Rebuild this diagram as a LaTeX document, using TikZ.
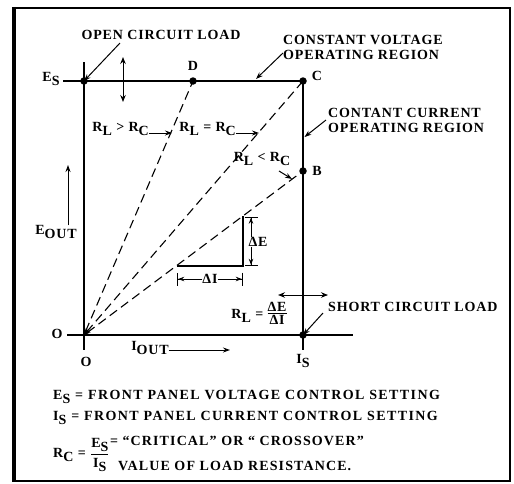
\documentclass[tikz,border=0pt]{standalone}
\usepackage{fontspec}
\setmainfont{Liberation Serif}[LetterSpace=6]
\usetikzlibrary{arrows.meta}
\newcommand\sbs[1]{\raisebox{-0.55ex}{#1}}
\newcommand\wideA{\addfontfeatures{LetterSpace=10}}
\newcommand\wideB{\addfontfeatures{LetterSpace=8}}
\newcommand\myfrac[2]{$\vcenter{\hbox{\begin{tabular}{@{}c@{}}#1\\[-3pt]\hline\rule{0pt}{11pt}#2\end{tabular}}}$}
\begin{document}
\begin{tikzpicture}[x=1pt,y=-1pt,
  txt/.style={font=\fontsize{14}{15}\selectfont\bfseries, inner sep=0pt},
  dot/.style={circle, fill, inner sep=0pt, minimum size=7.5pt},
  axis/.style={line width=1.6pt},
  thinaxis/.style={line width=1.3pt},
  ray/.style={dash pattern=on 9pt off 5pt, line width=1.1pt, {Stealth[length=7pt,width=4pt]}-},
  ptr/.style={line width=1pt, -{Stealth[length=7pt,width=5pt]}},
  dbl/.style={line width=1pt, {Stealth[length=7pt,width=5.5pt]}-{Stealth[length=7pt,width=5.5pt]}},
  dimline/.style={line width=0.9pt, -{Stealth[length=6pt,width=4.5pt]Bar[width=13pt,line width=1.2pt]}}]
\useasboundingbox (0,0) rectangle (514,483);
% frame
\draw[line width=2.4pt] (14,8) rectangle (510,481);
\draw[line width=4pt] (14,6.8) -- (14,482.2);
% points
\node[dot] (ES) at (84,81) {};
\node[dot] (D) at (193,81) {};
\node[dot] (C) at (303,81) {};
\node[dot] (B) at (303,171) {};
\node[dot] (IS) at (303,335) {};
\coordinate (O) at (84,335);
% axes
\coordinate (esL) at (63,81);
\coordinate (vT) at (84,62);
\coordinate (vB) at (84,350);
\coordinate (hL) at (67,335);
\coordinate (hR) at (353,335);
\coordinate (cB) at (303,350);
\draw[axis] (esL) -- (C.center);
\draw[thinaxis] (vT) -- (vB);
\draw[thinaxis] (hL) -- (hR);
\draw[axis] (C.center) -- (cB);
% load lines
\draw[ray] (O) -- (D.center);
\draw[ray] (O) -- (C.center);
\draw[ray] (O) -- (B.center);
% delta triangle
\coordinate (t1) at (177,266);
\coordinate (t2) at (243,266);
\coordinate (t3) at (243,216);
\draw[line width=1.2pt] (t1) -- (t2) -- (t3);
\node[txt] (dE) at (258,242) {ΔE};
\coordinate (dEt) at (251,216.5);
\coordinate (dEb) at (251,266);
\draw[dimline] (dE.north -| dEt) -- (dEt);
\draw[dimline] (dE.south -| dEb) -- (dEb);
\node[txt] (dI) at (210,279) {ΔI};
\coordinate (dIl) at (177,279);
\coordinate (dIr) at (243,279);
\draw[dimline] (dI.west) -- (dIl);
\draw[dimline] (dI.east) -- (dIr);
% double arrows
\coordinate (va) at (123,57);
\coordinate (vb) at (123,102);
\draw[dbl] (va) -- (vb);
\coordinate (ha) at (278,295);
\coordinate (hb) at (328,295);
\draw[dbl] (ha) -- (hb);
% labels on points
\node[txt] (Dl) at (193,66) {D};
\node[txt] (Cl) at (317,76) {C};
\node[txt] (Bl) at (317,171) {B};
\node[txt] (ESl) at (51,79) {E\sbs{S}};
\node[txt] (O1) at (57,334) {O};
\node[txt] (O2) at (86,362) {O};
\node[txt] (ISl) at (303,361) {I\sbs{S}};
% axis names
\node[txt] (Iout) at (150,348) {I\sbs{OUT}};
\coordinate (IoutE) at (230,350);
\draw[ptr] (Iout.east |- IoutE) -- (IoutE);
\node[txt] (Eout) at (56,232) {E\sbs{OUT}};
\coordinate (EoutT) at (68,165);
\draw[ptr] (Eout.north -| EoutT) -- (EoutT);
% region callouts
\node[txt] (ocl) at (161,35) {OPEN CIRCUIT LOAD};
\coordinate (oclS) at (120,43);
\draw[ptr] (oclS) -- (ES.center);
\node[txt, align=left, anchor=west] (cvr) at (283,47.5) {CONSTANT VOLTAGE\\OPERATING REGION};
\coordinate (cvrS) at (283,53);
\coordinate (cvrE) at (256,79);
\draw[ptr] (cvrS) -- (cvrE);
\node[txt, align=left, anchor=west] (ccr) at (328,120) {CONTANT CURRENT\\OPERATING REGION};
\coordinate (ccrS) at (326,120);
\coordinate (ccrE) at (304.5,137);
\draw[ptr] (ccrS) -- (ccrE);
\node[txt, anchor=west] (scl) at (328,307) {SHORT CIRCUIT LOAD};
\coordinate (sclS) at (323,313);
\draw[ptr] (sclS) -- (IS.center);
% load line labels
\node[txt, anchor=east] (rgt) at (149,129) {R\sbs{L} > R\sbs{C}};
\coordinate (rgtE) at (172,133);
\draw[ptr] (rgt.east |- rgtE) -- (rgtE);
\node[txt, anchor=east] (req) at (236,129) {R\sbs{L} = R\sbs{C}};
\coordinate (reqE) at (259,133);
\draw[ptr] (req.east |- reqE) -- (reqE);
\node[txt] (rlt) at (262,159) {R\sbs{L} < R\sbs{C}};
\coordinate (rltS) at (279,171);
\coordinate (rltE) at (292,179);
\draw[ptr] (rltS) -- (rltE);
\node[txt] (rld) at (259,315) {R\sbs{L} = \myfrac{ΔE}{ΔI}};
% legend
\node[txt, anchor=west] (l1) at (53,397) {\wideA E\sbs{S} = FRONT PANEL VOLTAGE CONTROL SETTING};
\node[txt, anchor=west] (l2) at (53,418) {\wideA I\sbs{S} = FRONT PANEL CURRENT CONTROL SETTING};
\node[txt, anchor=west] (rc) at (53,455) {R\sbs{C} = $\displaystyle\frac{\mbox{E\sbs{S}}}{\mbox{I\sbs{S}}}$};
\node[txt, anchor=west] (crit) at (rc.east |- 0,441) {\wideB = “CRITICAL” OR “ CROSSOVER”};
\node[txt, anchor=west] (val) at (118,466) {\wideB VALUE OF LOAD RESISTANCE.};
\end{tikzpicture}
\end{document}
